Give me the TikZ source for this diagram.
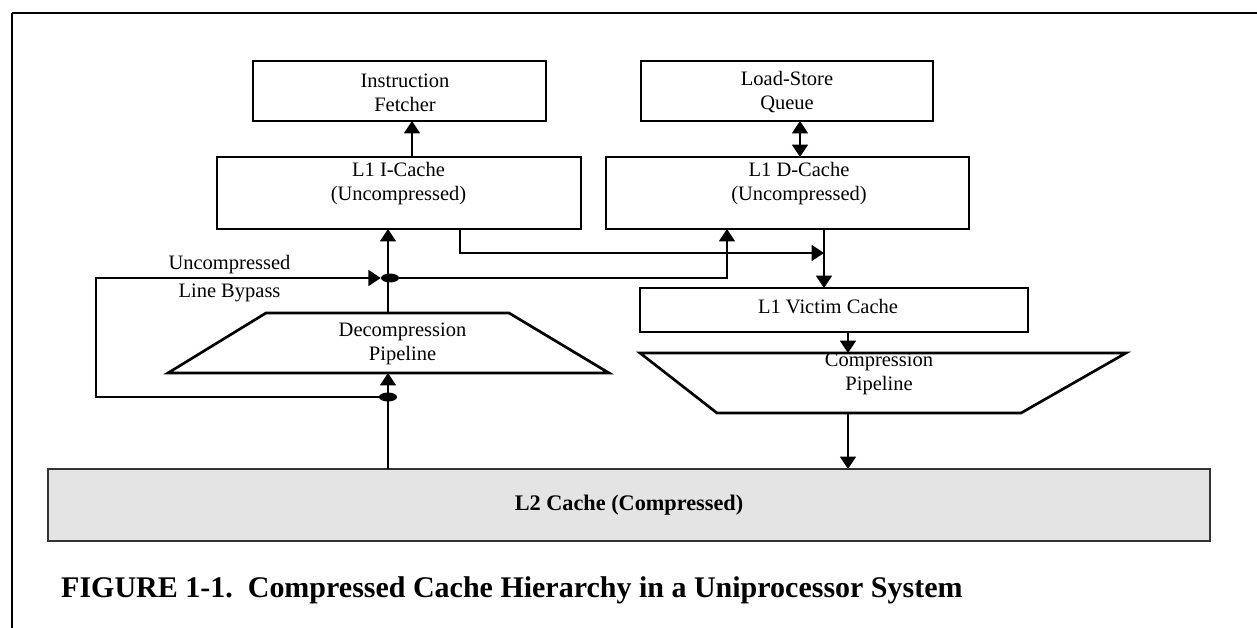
\documentclass[tikz,border=0pt]{standalone}
\usepackage{fontspec}
\setmainfont{Liberation Serif}
\usetikzlibrary{arrows.meta,shapes.geometric}
\definecolor{l2fill}{HTML}{E4E4E4}
\definecolor{l2edge}{HTML}{333333}
\begin{document}
\begin{tikzpicture}[x=0.03cm, y=-0.03cm,
  blk/.style 2 args={draw, line width=0.08cm, inner sep=0pt, outer sep=0pt,
    minimum width=#1*0.03cm, minimum height=#2*0.03cm},
  pipe/.style={draw, line width=0.08cm, line join=miter},
  lbl/.style={font=\fontsize{17.5}{20.5}\selectfont, align=center, inner sep=0pt},
  conn/.style={line width=0.045cm},
  tip/.tip={Triangle[length=0.37cm, width=0.48cm]},
  junction/.style={ellipse, fill, inner sep=0pt, minimum width=0.54cm, minimum height=0.27cm}]
\useasboundingbox (0,0) rectangle (1257,628);

% page frame
\draw[line width=0.085cm] (1257,13) -- (12,13);
\draw[line width=0.06cm] (12,13) -- (12,628);

% caches and queues
\node[blk={293}{60}] (fetch) at (399.5,91) {};
\node[blk={292}{60}] (lsq) at (787,91) {};
\node[blk={364}{72}] (icache) at (399,193) {};
\node[blk={363}{72}] (dcache) at (787.5,193) {};
\node[blk={388}{44}] (victim) at (834,310) {};
\node[draw=l2edge, fill=l2fill, line width=0.06cm, inner sep=0pt, outer sep=0pt,
  minimum width=1162*0.03cm, minimum height=72*0.03cm,
  font=\bfseries\fontsize{19}{22}\selectfont] (l2) at (629,505) {L2 Cache (Compressed)};

% pipelines
\draw[pipe] (266,313) -- (509,313) -- (609,373) -- (168,373) -- cycle;
\draw[pipe] (640,353) -- (1126,353) -- (1021,413) -- (717,413) -- cycle;
\coordinate (dtop) at (388,313);
\coordinate (dbot) at (388,373);
\coordinate (ctop) at (848,353);
\coordinate (cbot) at (848,413);

% labels
\node[lbl] (fetch-t) at (405,92.5) {Instruction\\Fetcher};
\node[lbl] (lsq-t) at (787,92.5) {Load-Store\\Queue};
\node[lbl] (icache-t) at (398.5,184) {L1 I-Cache\\(Uncompressed)};
\node[lbl] (dcache-t) at (799,184) {L1 D-Cache\\(Uncompressed)};
\node[lbl] (victim-t) at (828,306.5) {L1 Victim Cache};
\node[lbl] (decomp-t) at (402.5,344) {Decompression\\Pipeline};
\node[lbl] (comp-t) at (879,374) {Compression\\Pipeline};
\node[lbl] (byp-a) at (229.5,265) {Uncompressed};
\node[lbl] (byp-b) at (229.5,293) {Line Bypass};

% routing points
\coordinate (xf) at (412,0);
\coordinate (xd) at (800,0);
\coordinate (xi) at (460,0);
\coordinate (xw) at (727,0);
\coordinate (byp) at (96,278);
\coordinate (merge) at (824,253);

% connectors
\draw[conn,-tip] (icache.north -| xf) -- (fetch.south -| xf);
\draw[conn,tip-tip] (lsq.south -| xd) -- (dcache.north -| xd);
\draw[conn,-tip] (l2.north -| dbot) -- (dbot);
\draw[conn,-tip] (dtop) -- (icache.south -| dtop);
\node[junction] (jlo) at (388,397) {};
\node[junction] (jup) at (390,278) {};
\draw[conn,-tip] (jlo.center) -| (byp) -- (jup.west);
\draw[conn,-tip] (jup.east) -| (dcache.south -| xw);
\draw[conn,-tip] (icache.south -| xi) |- (merge);
\draw[conn,-tip] (dcache.south -| merge) -- (victim.north -| merge);
\draw[conn,-tip] (victim.south -| ctop) -- (ctop);
\draw[conn,-tip] (cbot) -- (l2.north -| cbot);

% caption
\node[anchor=base west, inner sep=0pt, font=\bfseries\fontsize{25.6}{30}\selectfont] (cap)
  at (61,597) {FIGURE 1-1.\ \ Compressed Cache Hierarchy in a Uniprocessor System};
\end{tikzpicture}
\end{document}
